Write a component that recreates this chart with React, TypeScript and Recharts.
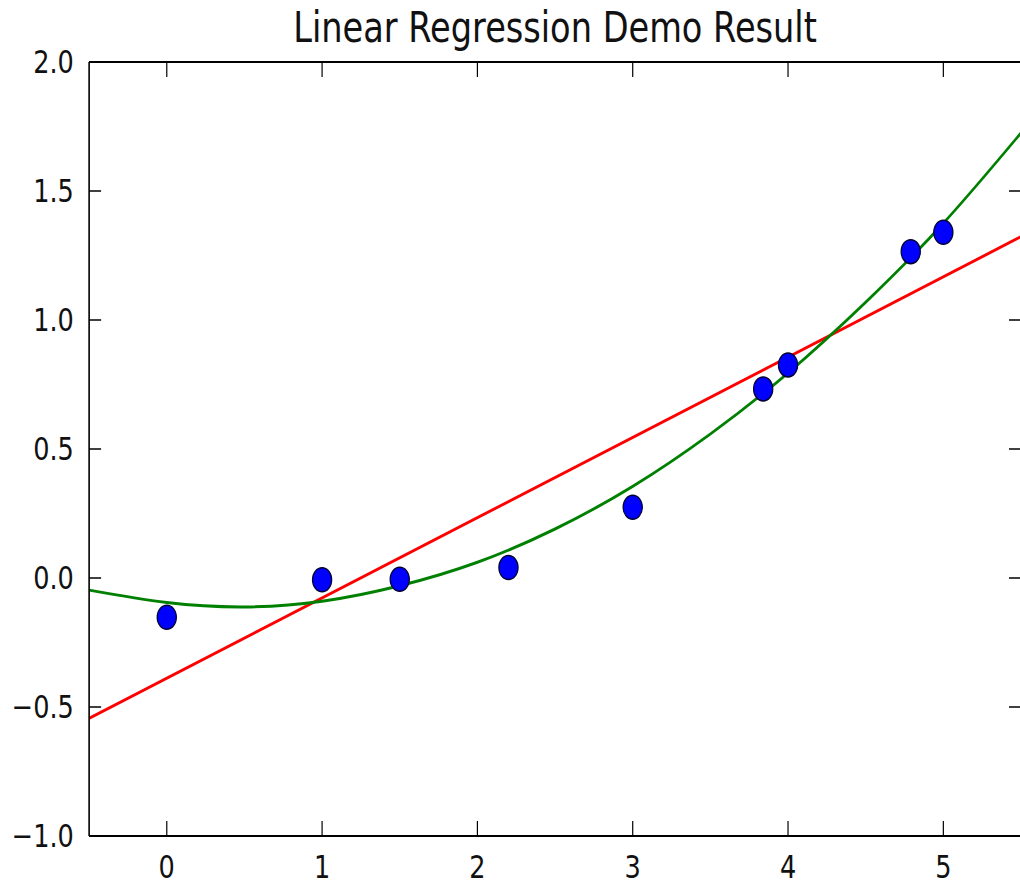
import { ComposedChart, Scatter, Line, XAxis, YAxis } from 'recharts';

// ticks
const xTicks = [0, 1, 2, 3, 4, 5];
const yTicks = [-1, -0.5, 0, 0.5, 1, 1.5, 2];

// measured samples (blue dots)
const sampleX = [0, 1, 1.5, 2.2, 3, 3.84, 4, 4.79, 5];
const sampleY = [-0.152, -0.007, -0.005, 0.041, 0.274, 0.733, 0.826, 1.265, 1.34];

// linear fit (red)
const linearX = [-0.5, 5.5];
const linearY = [-0.544, 1.323];

const quadX = [-0.5, 0, 0.5, 1, 1.5, 2, 2.5, 3, 3.5, 4, 4.5, 5, 5.5];
const quadY = [-0.047, -0.095, -0.112, -0.09, -0.03, 0.061, 0.19, 0.355, 0.558, 0.795, 1.069, 1.375, 1.725];

const samples = sampleX.map((x, i) => ({ x, y: sampleY[i] }));
const linear = linearX.map((x, i) => ({ x, y: linearY[i] }));
const quad = quadX.map((x, i) => ({ x, y: quadY[i] }));

// the reference is squeezed horizontally, so draw wide and scale down
const SQUEEZE = 0.8;
const W = 1300;
const H = 884;

const FONT = "'DejaVu Sans', sans-serif";
const FONT_SIZE = 32;
const TICK_LEN = 15;
const GAP = 19;
const spine = { stroke: '#000', strokeWidth: 2 };

const fmtY = (v: number) => (v < 0 ? '\u2212' + Math.abs(v).toFixed(1) : v.toFixed(1));

// matplotlib-style ticks: mark points inward, label sits outside
const BottomTick = (props: any) => {
  const { x, y, payload } = props;
  const axisY = y - GAP;
  return (
    <g>
      <line x1={x} x2={x} y1={axisY} y2={axisY - TICK_LEN} stroke="#000" strokeWidth={1.5} />
      <text x={x} y={y} dy="0.71em" textAnchor="middle" fontSize={FONT_SIZE} fontFamily={FONT} fill="#111">
        {String(payload.value)}
      </text>
    </g>
  );
};

const LeftTick = (props: any) => {
  const { x, y, payload } = props;
  const axisX = x + GAP;
  return (
    <g>
      <line x1={axisX} x2={axisX + TICK_LEN} y1={y} y2={y} stroke="#000" strokeWidth={1.5} />
      <text x={x} y={y} dy="0.355em" textAnchor="end" fontSize={FONT_SIZE} fontFamily={FONT} fill="#111">
        {fmtY(payload.value)}
      </text>
    </g>
  );
};

const TopTick = (props: any) => {
  const { x, y } = props;
  return <line x1={x} x2={x} y1={y} y2={y + TICK_LEN} stroke="#000" strokeWidth={1.5} />;
};

const RightTick = (props: any) => {
  const { x, y } = props;
  return <line x1={x} x2={x - TICK_LEN} y1={y} y2={y} stroke="#000" strokeWidth={1.5} />;
};

const Dot = (props: any) => {
  const { cx, cy } = props;
  if (cx == null || cy == null) return null;
  return <circle cx={cx} cy={cy} r={12} fill="#0000ff" stroke="#000033" strokeWidth={1.5} />;
};

export default function App() {
  return (
    <div
      style={{
        position: 'fixed',
        left: 0,
        top: 0,
        width: 1020,
        height: 884,
        overflow: 'hidden',
        background: '#fff',
      }}
    >
      <div
        style={{
          position: 'relative',
          width: W,
          height: H,
          transform: `scaleX(${SQUEEZE})`,
          transformOrigin: '0 0',
        }}
      >
        <ComposedChart width={W} height={H} margin={{ top: 52, right: 13.75, bottom: 8, left: 0 }}>
          <XAxis
            type="number"
            dataKey="x"
            domain={[-0.5, 5.5]}
            ticks={xTicks}
            interval={0}
            allowDataOverflow
            height={40}
            tickSize={0}
            tickMargin={GAP}
            tickLine={false}
            tick={BottomTick}
            axisLine={spine}
          />
          <XAxis
            xAxisId="top"
            orientation="top"
            type="number"
            dataKey="x"
            domain={[-0.5, 5.5]}
            ticks={xTicks}
            interval={0}
            allowDataOverflow
            height={10}
            tickSize={0}
            tickMargin={0}
            tickLine={false}
            tick={TopTick}
            axisLine={spine}
          />
          <YAxis
            type="number"
            dataKey="y"
            domain={[-1, 2]}
            ticks={yTicks}
            interval={0}
            allowDataOverflow
            width={111.4}
            tickSize={0}
            tickMargin={GAP}
            tickLine={false}
            tick={LeftTick}
            axisLine={spine}
          />
          <YAxis
            yAxisId="right"
            orientation="right"
            type="number"
            dataKey="y"
            domain={[-1, 2]}
            ticks={yTicks}
            interval={0}
            allowDataOverflow
            width={10}
            tickSize={0}
            tickMargin={0}
            tickLine={false}
            tick={RightTick}
            axisLine={spine}
          />
          <Line
            data={linear}
            dataKey="y"
            type="linear"
            stroke="#ff0000"
            strokeWidth={3}
            dot={false}
            activeDot={false}
            isAnimationActive={false}
          />
          <Scatter data={samples} dataKey="y" shape={Dot} isAnimationActive={false} />
          <Line
            data={quad}
            dataKey="y"
            type="natural"
            stroke="#008000"
            strokeWidth={3}
            dot={false}
            activeDot={false}
            isAnimationActive={false}
          />
        </ComposedChart>
        <svg
          width={W}
          height={60}
          style={{ position: 'absolute', left: 0, top: 0, pointerEvents: 'none' }}
        >
          <text x={693.8} y={42} textAnchor="middle" fontSize={42} fontFamily={FONT} fill="#111">
            Linear Regression Demo Result
          </text>
        </svg>
      </div>
    </div>
  );
}
